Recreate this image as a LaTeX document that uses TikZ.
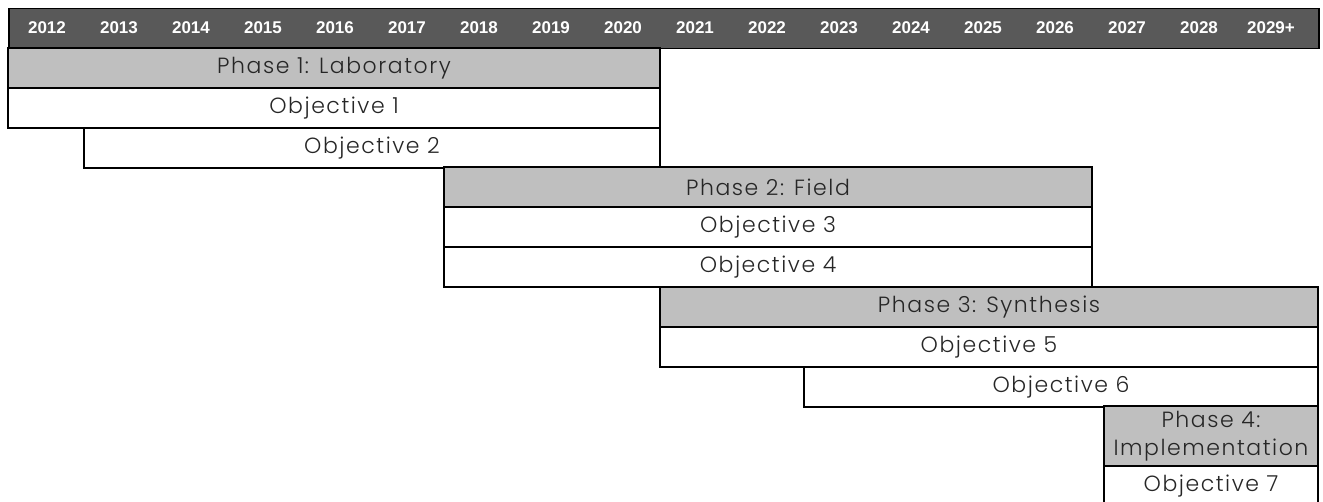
\documentclass[tikz,border=0pt]{standalone}
\usepackage{fontspec}
\setmainfont{Poppins}[UprightFont={* Light},LetterSpace=7]
\newfontfamily\yearfont{Liberation Sans}
\usetikzlibrary{positioning}

\definecolor{headgray}{HTML}{595959}
\definecolor{phasegray}{HTML}{BFBFBF}
\definecolor{textgray}{HTML}{262626}

\begin{document}
\begin{tikzpicture}[x=1pt,y=-1pt,
    bar/.style={draw,line width=1.5pt,anchor=north west,inner sep=0pt,outer sep=0pt,
        minimum height=40pt,font=\fontsize{22}{28}\selectfont,text=textgray,align=center},
    phasebar/.style={bar,fill=phasegray},
    yearlab/.style={font=\yearfont\bfseries\fontsize{17}{19}\selectfont,text=white}]
\useasboundingbox (0,0) rectangle (1323,502);

% year header
\node[draw,line width=1.5pt,fill=headgray,anchor=north west,inner sep=0pt,
      minimum width=1310pt,minimum height=40pt] (head) at (8,8) {};
\foreach \yr [count=\n from 0] in {2012,2013,2014,2015,2016,2017,2018,2019,2020,2021,2022,2023,2024,2025,2026,2027,2028,2029+}
    \node[yearlab] (Y\n) at (47+72*\n,28) {\yr};

% phase 1
\node[phasebar,minimum width=652pt] (P1) at (8,48) {Phase 1: Laboratory};
\node[bar,minimum width=652pt] (O1) at (P1.south west) {Objective 1};
\node[bar,minimum width=576pt] (O2) at (84,128) {Objective 2};

% phase 2
\node[phasebar,minimum width=648pt] (P2) at (444,167) {Phase 2: Field};
\node[bar,minimum width=648pt] (O3) at (P2.south west) {Objective 3};
\node[bar,minimum width=648pt] (O4) at (O3.south west) {Objective 4};

% phase 3
\node[phasebar,minimum width=658pt] (P3) at (660,287) {Phase 3: Synthesis};
\node[bar,minimum width=658pt] (O5) at (P3.south west) {Objective 5};
\node[bar,minimum width=514pt] (O6) at (804,367) {Objective 6};

% phase 4
\node[phasebar,minimum width=214pt,minimum height=60pt] (P4) at (1104,406) {Phase 4:\\Implementation};
\node[bar,minimum width=214pt] (O7) at (P4.south west) {Objective 7};
\end{tikzpicture}
\end{document}
